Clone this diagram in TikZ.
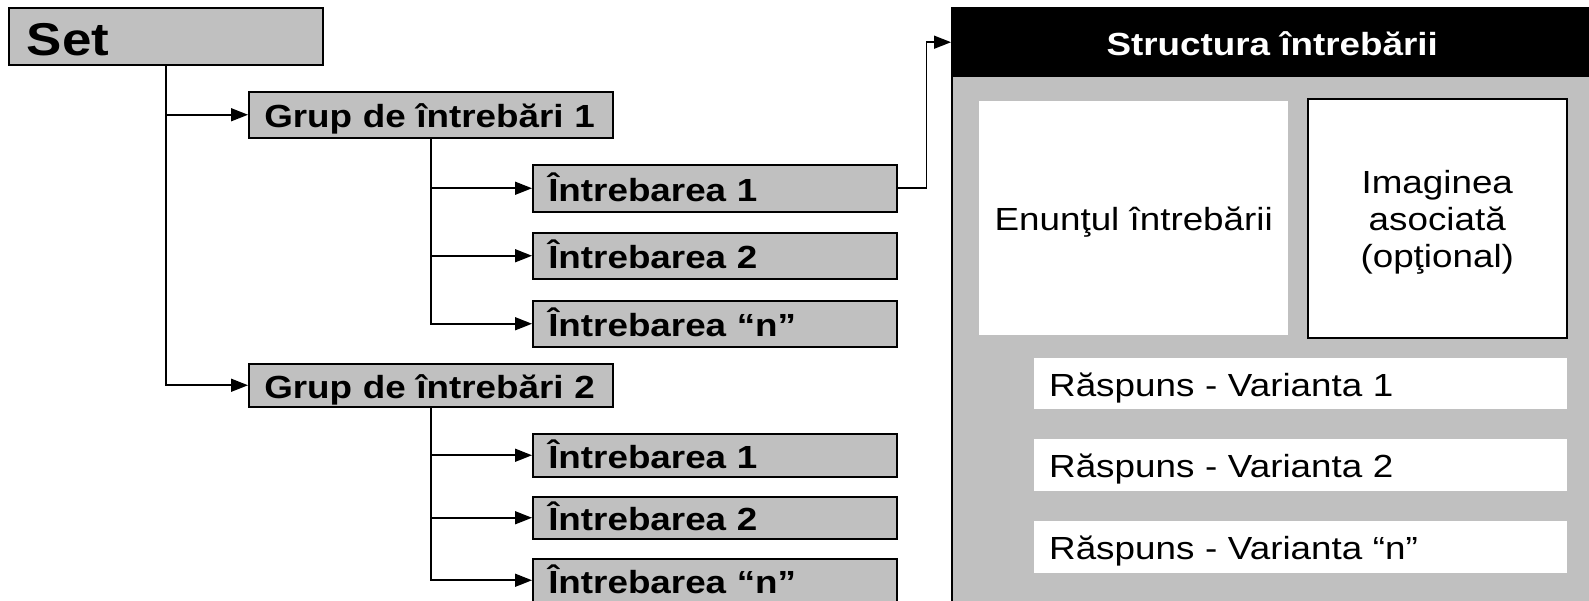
\documentclass[tikz,border=0pt]{standalone}
\usepackage{fontspec}
\setmainfont{Liberation Sans}[FakeStretch=1.15]
\usetikzlibrary{arrows.meta}
\definecolor{boxgray}{HTML}{C0C0C0}

\tikzset{
  x=1pt, y=-1pt,
  % grey boxes of the tree on the left
  treebox/.style={draw=black, line width=1.5pt, fill=boxgray, anchor=north west,
    inner ysep=0pt, inner xsep=15.5pt, text width=333pt, align=left,
    font=\bfseries\fontsize{32}{38}\selectfont, text height=30pt, text depth=4pt},
  rootbox/.style={treebox, inner xsep=18pt, text width=278pt, minimum height=57pt,
    font=\bfseries\fontsize{46}{52}\selectfont, text height=42pt, text depth=3pt},
  % panel describing one question
  panel/.style={draw=black, line width=1.5pt, fill=boxgray, anchor=north west,
    minimum width=642pt, minimum height=620pt, inner sep=0pt},
  header/.style={fill=black, text=white, anchor=north west, inner sep=0pt,
    minimum width=642pt, minimum height=70pt,
    font=\bfseries\fontsize{32}{38}\selectfont, text height=30pt, text depth=4pt},
  whitebox/.style={fill=white, anchor=north west, inner sep=0pt,
    font=\fontsize{32}{37}\selectfont},
  answer/.style={whitebox, inner xsep=15pt, text width=503pt, align=left,
    text height=30pt, text depth=5pt},
  conn/.style={line width=1.6pt, -{Triangle[length=17pt,width=13pt]}},
}

\begin{document}
\begin{tikzpicture}
\useasboundingbox (0,0) rectangle (1589,600);
\clip (0,0) rectangle (1589,600);

% question structure panel
\node[panel] (panel) at (951,7) {};
\node[header] (hdr) at (951,7) {Structura întrebării};
\node[whitebox, minimum width=309pt, minimum height=234pt,
      text height=29pt, text depth=5pt] (stem) at (979,101) {Enunţul întrebării};
\node[whitebox, draw=black, line width=1.5pt, minimum width=259pt,
      minimum height=239pt] (img) at (1307,98) {};
\node[align=center, inner sep=0pt, font=\fontsize{32}{37}\selectfont,
      yshift=-4.4pt] (imgtxt) at (img.center) {Imaginea\\asociată\\(opţional)};
\node[answer, minimum height=51pt] (ans1) at (1034,358) {Răspuns - Varianta 1};
\node[answer, minimum height=52pt] (ans2) at (1034,439) {Răspuns - Varianta 2};
\node[answer, minimum height=52pt] (ansn) at (1034,521) {Răspuns - Varianta “n”};

% tree of sets, groups and questions
\node[rootbox] (set) at (8,7) {Set};
\node[treebox, minimum height=46pt] (g1) at (248,91) {Grup de întrebări 1};
\node[treebox, minimum height=47pt] (q11) at (532,164) {Întrebarea 1};
\node[treebox, minimum height=46pt] (q12) at (532,232) {Întrebarea 2};
\node[treebox, minimum height=46pt] (q1n) at (532,300) {Întrebarea “n”};
\node[treebox, minimum height=43pt] (g2) at (248,363) {Grup de întrebări 2};
\node[treebox, minimum height=43pt] (q21) at (532,433) {Întrebarea 1};
\node[treebox, minimum height=42pt] (q22) at (532,496) {Întrebarea 2};
\node[treebox, minimum height=43pt] (q2n) at (532,558) {Întrebarea “n”};

% connectors
\draw[conn] (set.south) |- (g1.west);
\draw[conn] (set.south) |- (g2.west);
\draw[conn] (g1.south) |- (q11.west);
\draw[conn] (g1.south) |- (q12.west);
\draw[conn] (g1.south) |- (q1n.west);
\draw[conn] (g2.south) |- (q21.west);
\draw[conn] (g2.south) |- (q22.west);
\draw[conn] (g2.south) |- (q2n.west);
\draw[conn] (q11.east) -- ++(29,0) |- (hdr.west);
\end{tikzpicture}
\end{document}
